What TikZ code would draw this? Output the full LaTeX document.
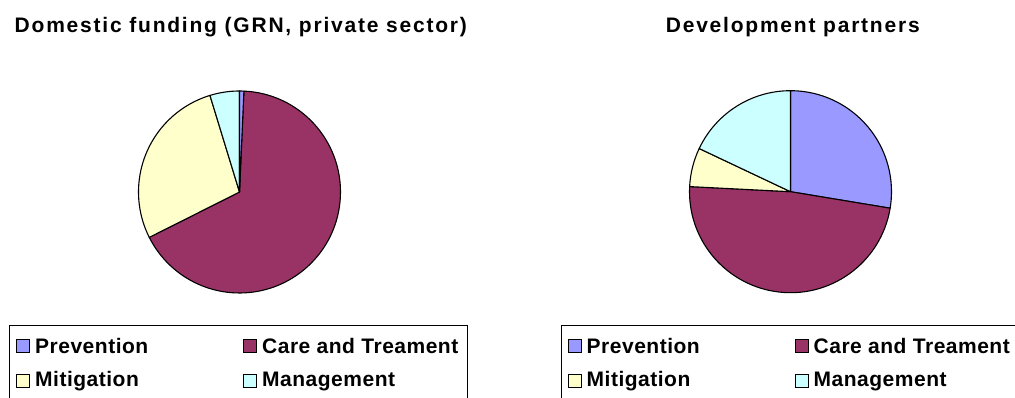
\documentclass[tikz,border=0pt]{standalone}
\usepackage{fontspec}
\setmainfont{Liberation Sans}
\usetikzlibrary{positioning}

\begin{document}
\begin{tikzpicture}[
            x=1pt,y=1pt,
            node distance=5pt,
            slice/.style={draw=black,line width=1.1pt,line join=round},
            keybox/.style={draw=black,line width=1pt,minimum size=13pt,inner sep=0pt},
            keytext/.style={inner sep=0pt,font=\fontsize{21}{24}\selectfont\bfseries\addfontfeature{LetterSpace=2.4}},
            heading/.style={font=\fontsize{21}{24}\selectfont\bfseries\addfontfeature{LetterSpace=8.5}}
        ]
            \definecolor{prv}{HTML}{9999FF}
            \definecolor{cat}{HTML}{993366}
            \definecolor{mit}{HTML}{FFFFCC}
            \definecolor{mgt}{HTML}{CCFFFF}

            \useasboundingbox[fill=white] (0,0) rectangle (1015,398);

            % headings
            \node [heading] (tdom) at (240.8,371) {Domestic funding (GRN, private sector)};
            \node [heading] (tdev) at (792.8,371) {Development partners};

            % domestic pie
            \coordinate (cdom) at (239.5,206);
            \draw [slice,fill=cat] (cdom) -- +(87.5:101) arc[start angle=87.5,end angle=-153.3,radius=101] -- cycle;
            \draw [slice,fill=mit] (cdom) -- +(206.7:101) arc[start angle=206.7,end angle=107,radius=101] -- cycle;
            \draw [slice,fill=mgt] (cdom) -- +(107:101) arc[start angle=107,end angle=90,radius=101] -- cycle;
            \draw [slice,fill=prv] (cdom) -- +(90:101) arc[start angle=90,end angle=87.5,radius=101] -- cycle;

            % development partners pie
            \coordinate (cdev) at (790.5,206.3);
            \draw [slice,fill=prv] (cdev) -- +(90:101) arc[start angle=90,end angle=-9.4,radius=101] -- cycle;
            \draw [slice,fill=cat] (cdev) -- +(-9.4:101) arc[start angle=-9.4,end angle=-182.9,radius=101] -- cycle;
            \draw [slice,fill=mit] (cdev) -- +(177.1:101) arc[start angle=177.1,end angle=154.7,radius=101] -- cycle;
            \draw [slice,fill=mgt] (cdev) -- +(154.7:101) arc[start angle=154.7,end angle=90,radius=101] -- cycle;

            % legends
            \draw [line width=1pt] (9,0) -- (9,72) -- (467,72) -- (467,0);
            \draw [line width=1pt] (561,0) -- (561,72) -- (1015,72);

            \node (p1) [keybox,fill=prv] at (23,51.7) {};
            \node (m1) [keybox,fill=mit,below=21pt of p1] {};
            \node (c1) [keybox,fill=cat] at (250,51.7) {};
            \node (g1) [keybox,fill=mgt,below=21pt of c1] {};
            \node [keytext,right=of p1] {Prevention};
            \node [keytext,right=of m1] {Mitigation};
            \node [keytext,right=of c1] {Care and Treament};
            \node [keytext,right=of g1] {Management};

            \node (p2) [keybox,fill=prv] at (574.5,51.7) {};
            \node (m2) [keybox,fill=mit,below=21pt of p2] {};
            \node (c2) [keybox,fill=cat] at (801.5,51.7) {};
            \node (g2) [keybox,fill=mgt,below=21pt of c2] {};
            \node [keytext,right=of p2] {Prevention};
            \node [keytext,right=of m2] {Mitigation};
            \node [keytext,right=of c2] {Care and Treament};
            \node [keytext,right=of g2] {Management};
        \end{tikzpicture}
\end{document}
